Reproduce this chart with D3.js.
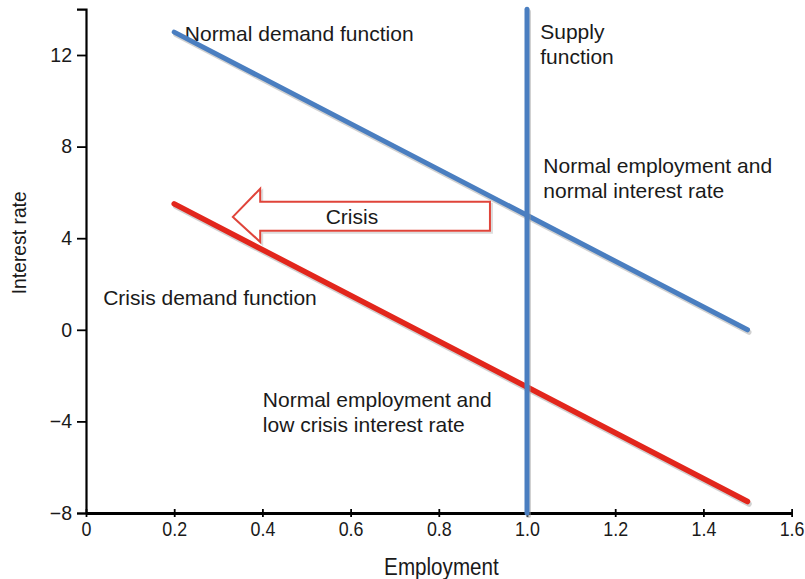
<!DOCTYPE html>
<html><head><meta charset="utf-8">
<script src="https://cdn.jsdelivr.net/npm/d3@7"></script>
<style>body{margin:0;background:#fff;} text{font-family:"Liberation Sans",Arial,sans-serif;fill:#1a1a1a;}</style>
</head><body>
<svg id="c" width="805" height="579"></svg>
<script>
// Data
const xTicks = [0, 0.2, 0.4, 0.6, 0.8, 1.0, 1.2, 1.4, 1.6];
const yTicks = [-8, -4, 0, 4, 8, 12];
const normalDemandX = [0.2, 1.5];
const normalDemandY = [13, 0];
const crisisDemandX = [0.2, 1.5];
const crisisDemandY = [5.5, -7.5];
const supplyX = [1.0, 1.0];
const supplyY = [-8, 14];
const arrowX = [0.333, 0.395, 0.395, 0.916, 0.916, 0.395, 0.395];
const arrowY = [4.93, 6.16, 5.59, 5.59, 4.32, 4.32, 3.84];
const labels = [
  {text:["Normal demand function"], x:0.224, y:12.6},
  {text:["Supply","function"], x:1.03, y:12.7},
  {text:["Normal employment and","normal interest rate"], x:1.037, y:6.85},
  {text:["Crisis demand function"], x:0.039, y:1.1},
  {text:["Normal employment and","low crisis interest rate"], x:0.401, y:-3.35}
];
const crisisLabel = {text:"Crisis", x:0.603, y:4.6};

const svg = d3.select("#c");
const x = d3.scaleLinear().domain([0, 1.6]).range([86, 791.6]);
const y = d3.scaleLinear().domain([-8, 14]).range([513, 9.2]);

// labels (white background boxes) drawn first so lines sit on top
function drawLabel(l) {
  const g = svg.append("g");
  const t = g.append("text").attr("x", x(l.x)).attr("y", y(l.y)).style("font-size", "21px");
  l.text.forEach((s, i) => t.append("tspan").attr("x", x(l.x)).attr("dy", i === 0 ? 0 : 25).text(s));
  const bb = t.node().getBBox();
  g.insert("rect", "text").attr("x", bb.x - 4).attr("y", bb.y - 2).attr("width", bb.width + 8)
    .attr("height", bb.height + 4).attr("fill", "#fff");
}
labels.forEach(drawLabel);

// axes
const yAxis = d3.axisLeft(y).tickValues(yTicks).tickSize(9).tickPadding(5).tickFormat(d3.format("d"));
const gy = svg.append("g").attr("transform", `translate(${x(0)},0)`).call(yAxis);
gy.select(".domain").attr("stroke", "#000").attr("stroke-width", 2.2);
gy.selectAll(".tick line").attr("stroke", "#000").attr("stroke-width", 1.8);
gy.selectAll(".tick text").style("font-size", "19.5px").attr("fill", "#1a1a1a");

const xAxis = d3.axisBottom(x).tickValues(xTicks).tickSizeInner(-4).tickSizeOuter(0).tickPadding(8)
  .tickFormat(d => d === 0 ? "0" : d3.format(".1f")(d));
const gx = svg.append("g").attr("transform", `translate(0,${y(-8)})`).call(xAxis);
gx.select(".domain").attr("stroke", "#000").attr("stroke-width", 3);
gx.selectAll(".tick line").attr("stroke", "#000").attr("stroke-width", 1.8).attr("y1", 4).attr("y2", -4);
gx.selectAll(".tick text").style("font-size", "21px").attr("fill", "#1a1a1a")
  .attr("transform", "scale(0.85,1)");

// axis titles
svg.append("text").attr("transform", `translate(${x(0.806)},575) scale(0.86,1)`)
  .attr("text-anchor", "middle").style("font-size", "24px").text("Employment");
svg.append("text").attr("transform", `translate(26,${y(3.8)}) rotate(-90) scale(0.92,1)`)
  .attr("text-anchor", "middle").style("font-size", "21px").text("Interest rate");

// lines with shadow
const line = d3.line().x(d => x(d[0])).y(d => y(d[1]));
function drawLine(xs, ys, color, w) {
  const pts = xs.map((v, i) => [v, ys[i]]);
  svg.append("path").attr("d", line(pts)).attr("fill", "none")
    .attr("stroke", "#9a9a9a").attr("stroke-opacity", 0.45).attr("stroke-width", w)
    .attr("stroke-linecap", "round").attr("transform", "translate(1.5,2.5)");
  svg.append("path").attr("d", line(pts)).attr("fill", "none")
    .attr("stroke", color).attr("stroke-width", w).attr("stroke-linecap", "round");
}

drawLine(normalDemandX, normalDemandY, "#4a7ec0", 5);
drawLine(crisisDemandX, crisisDemandY, "#e2261c", 5.5);

// crisis arrow
const arrowPts = arrowX.map((v, i) => [x(v), y(arrowY[i])]);
svg.append("polygon").attr("points", arrowPts.map(p => p.join(",")).join(" "))
  .attr("fill", "none").attr("stroke", "#bbb").attr("stroke-width", 2).attr("stroke-opacity", 0.5)
  .attr("transform", "translate(2,2)");
svg.append("polygon").attr("points", arrowPts.map(p => p.join(",")).join(" "))
  .attr("fill", "#fff").attr("stroke", "#e0443a").attr("stroke-width", 2);
svg.append("text").attr("x", x(crisisLabel.x)).attr("y", y(crisisLabel.y))
  .attr("text-anchor", "middle").style("font-size", "21px").text(crisisLabel.text);

drawLine(supplyX, supplyY, "#4a7ec0", 5);
</script>
</body></html>
